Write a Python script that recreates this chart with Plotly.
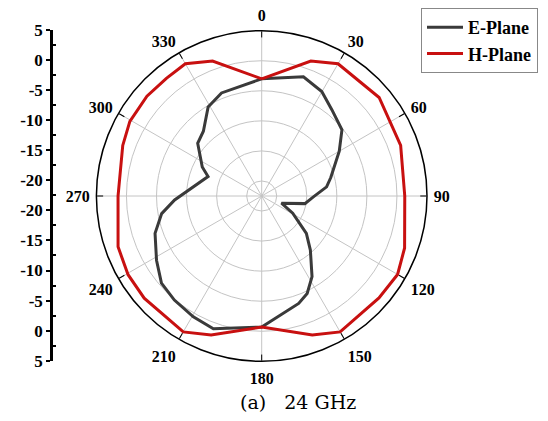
import plotly.graph_objects as go

# ---- data ----
e_theta = [0, 19.3, 29.9, 39.1, 50.5, 60, 75, 82, 91, 100, 110, 119, 130, 138, 148, 155, 161,
           180, 200, 209.5, 220, 229, 238.6, 250.7, 260, 267.4, 290, 296, 309.5, 318, 329, 338.7, 360]
e_gain = [-3.0, -1.5, -2.45, -4.0, -5.2, -7.6, -10.6, -11.6, -13.9, -15.2, -19.0, -16.6, -12.8, -10.4, -6.7, -4.6, -3.6,
          -0.7, 1.0, 0.6, 0.1, -0.4, -2.0, -3.7, -5.6, -8.0, -13.0, -11.5, -8.7, -8.0, -5.2, -4.1, -3.0]

h_theta = [0, 20, 30, 50, 70, 90, 110, 120, 131, 150, 160, 180, 200, 210, 229, 239.5, 250.5,
           270, 290, 299.5, 311, 321, 330, 340, 360]
h_gain = [-3.0, 1.4, 2.9, 3.0, 2.1, 1.3, 2.8, 3.6, 3.35, 3.6, 2.1, -0.7, 2.1, 3.6, 3.4, 3.3, 2.85,
          1.4, 2.1, 2.7, 2.8, 2.7, 2.9, 1.4, -3.0]

angle_ticks = list(range(0, 360, 30))
angle_minor = list(range(0, 360, 15))
r_min, r_max = -22.5, 5
r_major = [-20, -15, -10, -5, 0, 5]
r_minor = [-17.5, -12.5, -7.5, -2.5, 2.5]
left_labels = [5, 0, -5, -10, -15, -20]   # radial scale labels (top half, mirrored below)

# ---- build ----
W, H = 548, 421
OFF = 8  # page body margin offset

fig = go.Figure()

serif_bold = dict(family="Liberation Serif", size=16, color="black", weight="bold")

fig.add_trace(go.Scatterpolar(theta=e_theta, r=e_gain, mode="lines", name="E-Plane",
                              line=dict(color="#3a3a3a", width=3), subplot="polar2"))
fig.add_trace(go.Scatterpolar(theta=h_theta, r=h_gain, mode="lines", name="H-Plane",
                              line=dict(color="#c81010", width=3), subplot="polar2"))
# invisible trace so the label layer is drawn
fig.add_trace(go.Scatterpolar(theta=[0], r=[r_min], mode="markers", marker=dict(opacity=0),
                              showlegend=False, hoverinfo="skip", subplot="polar3"))

# dummy trace for the left linear axis
fig.add_trace(go.Scatter(x=[0.5], y=[0], mode="markers", marker=dict(opacity=0),
                         showlegend=False, hoverinfo="skip", xaxis="x", yaxis="y"))

cx, cy, rad = 261.7 - OFF, 196.0 - OFF, 165.3
dom_x = [(cx - rad) / W, (cx + rad) / W]
dom_y = [(H - cy - rad) / H, (H - cy + rad) / H]

fig.update_layout(
    width=W, height=H,
    margin=dict(l=0, r=0, t=0, b=0, autoexpand=False),
    paper_bgcolor="white",
    plot_bgcolor="rgba(0,0,0,0)",
    showlegend=True,
    legend=dict(x=(421 - OFF) / W, y=1.0, xanchor="left", yanchor="top",
                bordercolor="#888888", borderwidth=1, bgcolor="white",
                font=dict(family="Liberation Serif", size=18, color="black", weight="bold"),
                tracegroupgap=0, itemwidth=36),
    polar=dict(
        domain=dict(x=dom_x, y=dom_y),
        bgcolor="white",
        radialaxis=dict(range=[r_min, r_max], tickvals=r_minor, showticklabels=False,
                        ticks="", showline=False, gridcolor="#d2d2d2", griddash="dot", gridwidth=1),
        angularaxis=dict(rotation=90, direction="clockwise", tickvals=angle_minor,
                         showticklabels=False, ticks="inside", ticklen=3, tickcolor="black",
                         showline=False, gridcolor="#d2d2d2", griddash="dot", gridwidth=1),
    ),
    polar2=dict(
        domain=dict(x=dom_x, y=dom_y),
        bgcolor="rgba(0,0,0,0)",
        radialaxis=dict(range=[r_min, r_max], tickvals=r_major, showticklabels=False,
                        ticks="", showline=False, gridcolor="#c4c4c4", gridwidth=1),
        angularaxis=dict(rotation=90, direction="clockwise", tickvals=angle_ticks,
                         showticklabels=False,
                         ticks="inside", ticklen=6, tickcolor="black", tickwidth=1,
                         showline=True, linecolor="black", linewidth=1.5,
                         gridcolor="#c4c4c4", gridwidth=1),
    ),
    polar3=dict(
        domain=dict(x=dom_x, y=dom_y),
        bgcolor="rgba(0,0,0,0)",
        radialaxis=dict(range=[r_min, r_max], visible=False, showgrid=False),
        angularaxis=dict(rotation=90, direction="clockwise", tickvals=angle_ticks,
                         ticktext=[str(a) for a in angle_ticks], tickfont=serif_bold,
                         ticks="outside", ticklen=3, tickcolor="rgba(0,0,0,0)",
                         showline=False, showgrid=False),
    ),
    xaxis=dict(domain=[0, 0.05], range=[0, 1], visible=False),
)

# left radial scale axis: offset from centre in dB-units
off_vals = []
off_text = []
for v in left_labels:
    off = v - r_min
    off_vals += [off, -off]
    off_text += [str(v), str(v)]
minor_vals = [0] + [k * 5 for k in range(1, 6)] + [-k * 5 for k in range(1, 6)]

fig.update_layout(
    yaxis=dict(anchor="free", position=(51 - OFF) / W, side="left",
               range=[-(r_max - r_min), (r_max - r_min)],
               domain=[(H - (360.7 - OFF)) / H, (H - (30 - OFF)) / H],
               tickmode="array", tickvals=off_vals, ticktext=off_text,
               ticks="outside", ticklen=4, tickwidth=2, tickcolor="black",
               showline=True, linewidth=2.5, linecolor="black",
               showgrid=False, zeroline=False,
               tickfont=dict(family="Liberation Serif", size=17, color="black", weight="bold"),
               minor=dict(tickmode="array", tickvals=minor_vals, ticks="inside",
                          ticklen=3, tickwidth=2, tickcolor="black", showgrid=False)),
)

fig.add_annotation(text="(a)\u00a0\u00a0\u00a024 GHz", x=(298 - OFF) / W, y=(H - (402 - OFF)) / H,
                   xref="paper", yref="paper", xanchor="center", yanchor="middle", showarrow=False,
                   font=dict(family="DejaVu Serif", size=19, color="black"))

fig.write_html("out.html")
